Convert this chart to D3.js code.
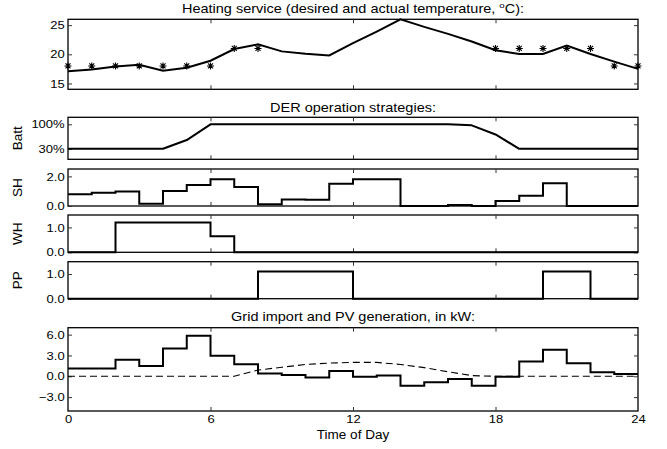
<!DOCTYPE html>
<html><head><meta charset="utf-8">
<script src="https://cdn.jsdelivr.net/npm/d3@7"></script>
<style>body{margin:0;background:#fff}svg{display:block}</style>
</head><body><svg id="c" width="667" height="449"></svg>
<script>
// ---------------- data ----------------
const hours = d3.range(0, 25);               // 0..24
const tempActual = [17.1, 17.4, 17.9, 18.2, 17.2, 17.7, 18.9, 20.9, 21.7, 20.5, 20.1, 19.8, 21.9,
                    23.9, 26.0, 24.7, 23.5, 22.2, 20.7, 20.05, 20.05, 21.5, 20.05, 18.75, 17.5];
const tempDesired = [18, 18, 18, 18, 18, 18, 18, 21, 21, null, null, null, null, null, null, null,
                     null, null, 21, 21, 21, 21, 21, 18, 18];
const battSOC = [30, 30, 30, 30, 30, 55, 100, 100, 100, 100, 100, 100, 100, 100, 100, 100, 100,
                 97, 71, 30, 30, 30, 30, 30, 30];
const shPower = [0.80, 0.89, 0.98, 0.16, 1.02, 1.42, 1.80, 1.29, 0.11, 0.44, 0.42, 1.51,
                 1.80, 1.80, 0, 0, 0.07, 0, 0.33, 0.69, 1.53, 0, 0, 0];
const whPower = [0, 0, 1.2, 1.2, 1.2, 1.2, 0.65, 0, 0, 0, 0, 0, 0, 0, 0, 0, 0, 0, 0, 0, 0, 0, 0, 0];
const ppPower = [0, 0, 0, 0, 0, 0, 0, 0, 1.1, 1.1, 1.1, 1.1, 0, 0, 0, 0, 0, 0, 0, 0, 1.1, 1.1, 0, 0];
const gridImport = [1.11, 1.11, 2.37, 1.5, 4.0, 5.85, 2.95, 1.74, 0.39, 0.19, -0.19, 0.75,
                    -0.05, 0.1, -1.35, -0.87, -0.39, -1.35, -0.05, 2.13, 3.82, 1.89, 0.58, 0.34];
const pvGen = [0, 0, 0, 0, 0, 0, 0, 0, 0.9, 1.3, 1.7, 1.9, 2.0, 2.0, 1.7, 1.25, 0.65, 0.1,
               0, 0, 0, 0, 0, 0, 0];
const xTickValues = [0, 6, 12, 18, 24];
const tempTicks = [15, 20, 25];
const battTicks = [30, 100];
const battTickLabels = ["30%", "100%"];
const unitTicks2 = [0, 2];
const unitTicks1 = [0, 1];
const gridTicks = [-3, 0, 3, 6];
const gridTickLabels = ["\u22123.0", "0.0", "3.0", "6.0"];

// ---------------- layout ----------------
const svg = d3.select("#c");
const FONT = "'Liberation Sans', Arial, Helvetica, sans-serif";
const TICK_SX = 1.13, TITLE_SX = 1.21;
const x = d3.scaleLinear().domain([0, 24]).range([68, 638]);

const panels = [
  {key: "temp", top: 19.3, bottom: 89.3, domain: [14, 26], ticks: tempTicks, fmt: d => String(d)},
  {key: "batt", top: 117.3, bottom: 159.3, domain: [0, 120], ticks: battTicks, fmt: (d, i) => battTickLabels[i], label: "Batt"},
  {key: "sh", top: 169, bottom: 206, domain: [0, 2.5], ticks: unitTicks2, fmt: d => d.toFixed(1), label: "SH"},
  {key: "wh", top: 215, bottom: 252.3, domain: [0, 1.5], ticks: unitTicks1, fmt: d => d.toFixed(1), label: "WH"},
  {key: "pp", top: 261.7, bottom: 298.7, domain: [0, 1.5], ticks: unitTicks1, fmt: d => d.toFixed(1), label: "PP"},
  {key: "grid", top: 327.7, bottom: 411, domain: [-5, 7], ticks: gridTicks, fmt: (d, i) => gridTickLabels[i]}
];

panels.forEach(p => {
  p.y = d3.scaleLinear().domain(p.domain).range([p.bottom, p.top]);
  const g = svg.append("g");
  p.g = g;
  g.append("rect").attr("x", x(0)).attr("y", p.top).attr("width", x(24) - x(0)).attr("height", p.bottom - p.top)
    .attr("fill", "none").attr("stroke", "#000").attr("stroke-width", 1.3);
  const la = g.append("g").attr("transform", `translate(${x(0)},0)`)
    .call(d3.axisLeft(p.y).tickValues(p.ticks).tickFormat(p.fmt).tickSizeInner(-4).tickSizeOuter(0).tickPadding(3));
  const ra = g.append("g").attr("transform", `translate(${x(24)},0)`)
    .call(d3.axisRight(p.y).tickValues(p.ticks).tickFormat("").tickSizeInner(-4).tickSizeOuter(0));
  const ta = g.append("g").attr("transform", `translate(0,${p.top})`)
    .call(d3.axisTop(x).tickValues([6, 12, 18]).tickFormat("").tickSizeInner(-4).tickSizeOuter(0));
  const ba = g.append("g").attr("transform", `translate(0,${p.bottom})`)
    .call(d3.axisBottom(x).tickValues(p.key === "grid" ? xTickValues : [6, 12, 18])
      .tickFormat(p.key === "grid" ? d3.format("d") : "").tickSizeInner(-4).tickSizeOuter(0).tickPadding(4));
  [la, ra, ta, ba].forEach(a => {
    a.select(".domain").remove();
    a.selectAll("line").attr("stroke", "#333").attr("stroke-width", 1);
    a.selectAll("text").attr("font-family", FONT).attr("font-size", 11.5).attr("fill", "#000")
      .attr("transform", `scale(${TICK_SX},1)`);
  });
  if (p.key === "grid") ba.selectAll(".tick").filter(d => d === 0 || d === 24).select("line").remove();
  if (p.label) {
    g.append("text").attr("transform", `translate(22,${(p.top + p.bottom) / 2}) rotate(-90) scale(${TICK_SX},1)`)
      .attr("text-anchor", "middle").attr("font-family", FONT).attr("font-size", 12).text(p.label);
  }
});

const P = Object.fromEntries(panels.map(p => [p.key, p]));

function title(y, sx) {
  return svg.append("text").attr("transform", `translate(353,${y}) scale(${sx},1)`)
    .attr("text-anchor", "middle").attr("font-family", FONT).attr("font-size", 12);
}
const t1 = title(13, TITLE_SX);
t1.append("tspan").text("Heating service (desired and actual temperature, ");
t1.append("tspan").attr("font-size", 8).attr("dy", -5).text("o");
t1.append("tspan").attr("dy", 5).text("C):");
title(112, TITLE_SX).text("DER operation strategies:");
title(320.5, TITLE_SX).text("Grid import and PV generation, in kW:");
title(438.5, TICK_SX).text("Time of Day");

// lines
const lineOf = (p) => d3.line().x(d => x(d[0])).y(d => p.y(d[1]));
const stepData = arr => arr.map((v, i) => [i, v]).concat([[arr.length, arr[arr.length - 1]]]);

P.temp.g.append("path").datum(hours.map((h, i) => [h, tempActual[i]]))
  .attr("d", lineOf(P.temp)).attr("fill", "none").attr("stroke", "#000").attr("stroke-width", 2);
const star = "M0,-3.5V3.5M-3.5,0H3.5M-2.5,-2.5L2.5,2.5M-2.5,2.5L2.5,-2.5";
P.temp.g.selectAll(".star").data(hours.map((h, i) => [h, tempDesired[i]]).filter(d => d[1] !== null))
  .join("path").attr("class", "star")
  .attr("transform", d => `translate(${x(d[0])},${P.temp.y(d[1])})`)
  .attr("d", star).attr("stroke", "#000").attr("stroke-width", 1.1).attr("fill", "none");

P.batt.g.append("path").datum(hours.map((h, i) => [h, battSOC[i]]))
  .attr("d", lineOf(P.batt)).attr("fill", "none").attr("stroke", "#000").attr("stroke-width", 2)
  .attr("stroke-linejoin", "round");

[["sh", shPower], ["wh", whPower], ["pp", ppPower], ["grid", gridImport]].forEach(([k, arr]) => {
  P[k].g.append("path").datum(stepData(arr))
    .attr("d", lineOf(P[k]).curve(d3.curveStepAfter))
    .attr("fill", "none").attr("stroke", "#000").attr("stroke-width", 2);
});

P.grid.g.append("path").datum(hours.map((h, i) => [h, pvGen[i]]))
  .attr("d", lineOf(P.grid)).attr("fill", "none").attr("stroke", "#000")
  .attr("stroke-width", 1.1).attr("stroke-dasharray", "7,4");
</script></body></html>
